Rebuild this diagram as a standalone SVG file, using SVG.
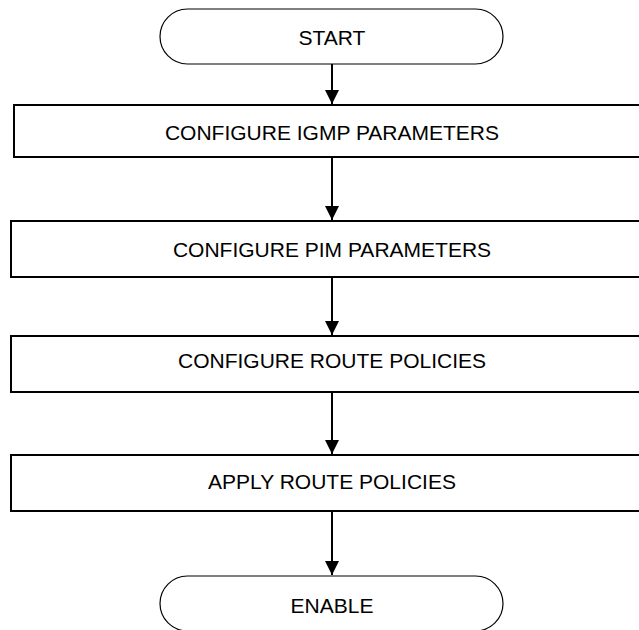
<svg xmlns="http://www.w3.org/2000/svg" width="639" height="630" viewBox="0 0 639 630">
  <style>
    .term { fill: #fff; stroke: #000; stroke-width: 1.2; }
    .box { fill: #fff; stroke: #000; stroke-width: 2; }
    .lbl { font-family: "Liberation Sans", Arial, sans-serif; font-size: 21px; fill: #000; text-anchor: middle; }
    .conn { stroke: #000; stroke-width: 2; fill: none; marker-end: url(#arr); }
  </style>
  <defs>
    <marker id="arr" markerUnits="userSpaceOnUse" markerWidth="16" markerHeight="14" refX="14" refY="7" orient="auto">
      <polygon points="0,0 14,7 0,14" fill="#000"/>
    </marker>
  </defs>
  <rect width="639" height="630" fill="#fff"/>
  <g id="connectors">
    <line class="conn" x1="332" y1="64" x2="332" y2="104"/>
    <line class="conn" x1="332" y1="157" x2="332" y2="220"/>
    <line class="conn" x1="332" y1="277" x2="332" y2="335"/>
    <line class="conn" x1="332" y1="392" x2="332" y2="454"/>
    <line class="conn" x1="332" y1="511" x2="332" y2="575"/>
  </g>
  <g id="start">
    <rect class="term" x="160" y="9" width="343" height="55" rx="27.5" ry="27.5"/>
    <text class="lbl" x="332" y="45">START</text>
  </g>
  <g id="igmp">
    <rect class="box" x="14" y="105" width="640" height="52"/>
    <text class="lbl" x="332" y="140">CONFIGURE IGMP PARAMETERS</text>
  </g>
  <g id="pim">
    <rect class="box" x="11" y="221" width="640" height="56"/>
    <text class="lbl" x="332" y="257">CONFIGURE PIM PARAMETERS</text>
  </g>
  <g id="route-policies">
    <rect class="box" x="11" y="336" width="640" height="56"/>
    <text class="lbl" x="332" y="368">CONFIGURE ROUTE POLICIES</text>
  </g>
  <g id="apply">
    <rect class="box" x="11" y="455" width="640" height="56"/>
    <text class="lbl" x="332" y="489">APPLY ROUTE POLICIES</text>
  </g>
  <g id="enable">
    <rect class="term" x="160" y="576" width="343" height="55" rx="27.5" ry="27.5"/>
    <text class="lbl" x="332" y="613">ENABLE</text>
  </g>
</svg>
